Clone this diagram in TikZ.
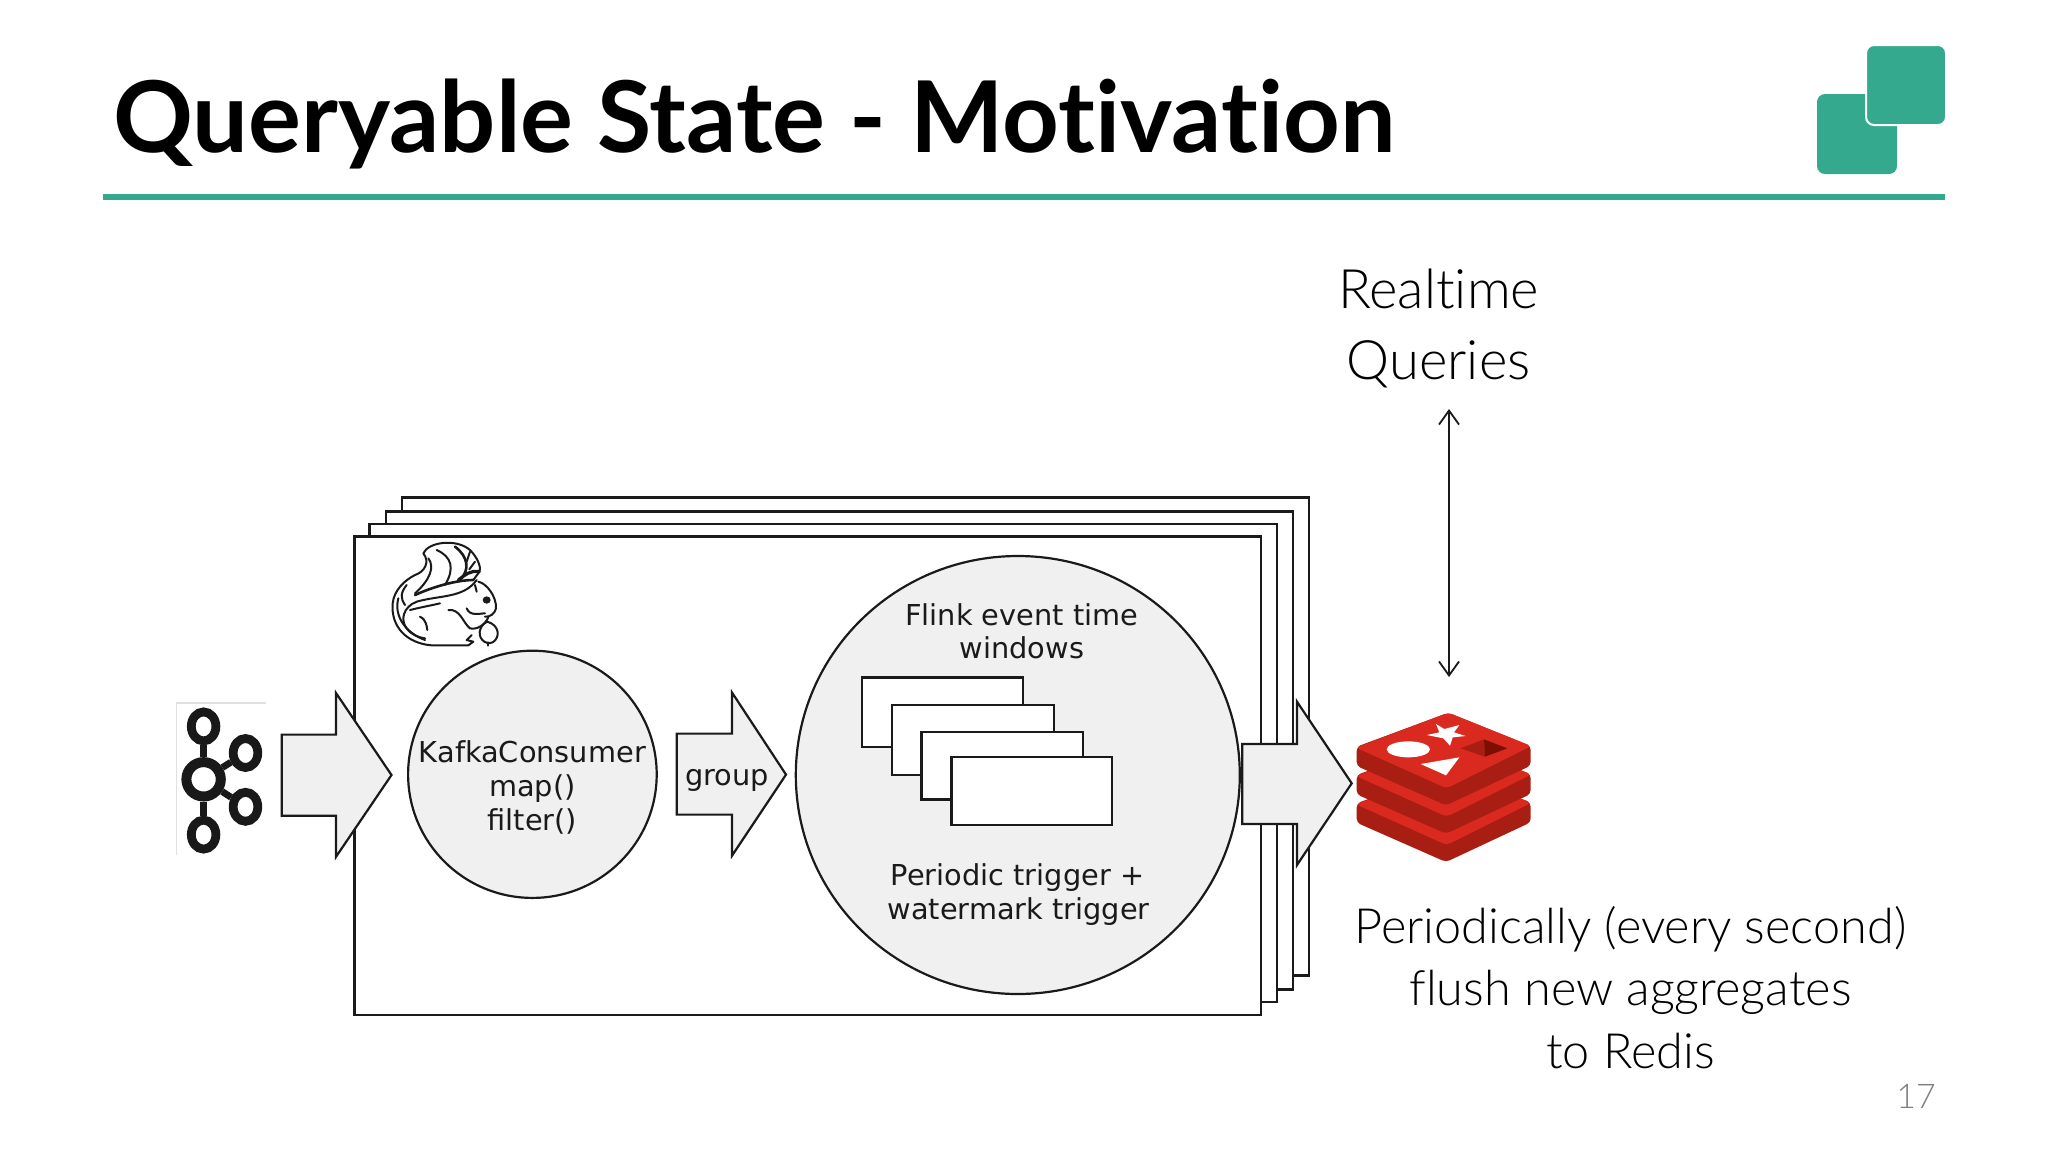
\documentclass[tikz,border=0pt]{standalone}
\usepackage{fontspec}
\usetikzlibrary{shapes.geometric,arrows.meta}
\setmainfont{Lato Light}[Ligatures=NoCommon]
\newfontfamily\titlef{Lato Bold}[Ligatures=NoCommon]
\newfontfamily\diagf{DejaVu Sans}
\definecolor{teal1}{HTML}{34A98E}
\definecolor{boxg}{HTML}{F0F0F0}
\definecolor{ink}{HTML}{1A1A1A}
\definecolor{redA}{HTML}{DA2A1F}
\definecolor{redB}{HTML}{A81E12}
\definecolor{redC}{HTML}{7C0F02}
\tikzset{
  x=0.5pt,y=-0.5pt,
  frame/.style={draw=ink,line width=1.2pt,fill=white},
  blockarrow/.style={draw=ink,line width=1.1pt,fill=boxg,line join=miter},
  bubble/.style={ellipse,draw=ink,line width=1.1pt,fill=boxg,inner sep=0pt},
  dtext/.style={font=\diagf\fontsize{14.4}{17}\selectfont,text=ink,inner sep=0pt,align=center},
  wtext/.style={font=\fontsize{24.3}{24.3}\selectfont,text=black,inner sep=0pt,align=center,anchor=base},
  qtext/.style={font=\fontsize{27.2}{27.2}\selectfont,text=black,inner sep=0pt,align=center,anchor=base},
  kring/.style={ellipse,draw=black!90,inner sep=0pt,fill=none,minimum width=12.3pt,minimum height=14.5pt,line width=4.4pt},
  klink/.style={draw=black!90,line width=3.4pt},
  sq/.style={line width=1pt,draw=ink,line cap=round,line join=round},
  layerA/.style={fill=redA,rounded corners=2pt},
  layerB/.style={fill=redB,rounded corners=2pt},
}
\begin{document}
\begin{tikzpicture}
\useasboundingbox (0,0) rectangle (2048,1152);
\fill[white] (0,0) rectangle (2048,1152);
% title
\node[anchor=base west,inner sep=0pt,font=\titlef\fontsize{49.5}{49.5}\selectfont] (title) at (113,152) {Queryable State - Motivation};
\fill[teal1] (103,194) rectangle (1945,200);
\fill[teal1,rounded corners=4pt] (1817,94) rectangle (1897,174);
\filldraw[fill=teal1,draw=white,line width=1pt,rounded corners=4pt] (1866,45) rectangle (1946,125);
% frames
\draw[frame] (402,497.5) rectangle (1309,975.5);
\draw[frame] (385.7,511.5) rectangle (1292.7,989.5);
\draw[frame] (369.6,524) rectangle (1276.7,1001.7);
\draw[frame] (354.5,536.5) rectangle (1261,1014.7);
% kafka
\draw[black!12,line width=0.6pt] (176.8,855)--(176.8,703)--(266,703);
\node[kring,line width=5pt,minimum width=17.2pt,minimum height=17.2pt] (kc) at (203.6,779.3) {};
\node[kring] (kt) at (203.6,726.4) {};
\node[kring] (kb) at (203.6,834.6) {};
\node[kring] (kr1) at (245.5,753) {};
\node[kring] (kr2) at (245.5,806.8) {};
\draw[klink] (kc)--(kt);\draw[klink] (kc)--(kb);\draw[klink] (kc)--(kr1);\draw[klink] (kc)--(kr2);
% block arrows
\draw[blockarrow] (281.7,734.6)--(336,734.6)--(336,693)--(391.5,775)--(336,856.8)--(336,815.7)--(281.7,815.7)--cycle;
\draw[blockarrow] (676.8,733.6)--(732,733.6)--(732,692.5)--(786,774.6)--(732,855.7)--(732,814.6)--(676.8,814.6)--cycle;
\draw[blockarrow] (1242.3,744)--(1297,744)--(1297,701.7)--(1351.7,783.3)--(1297,865)--(1297,824)--(1242.3,824)--cycle;
% bubbles
\node[bubble,minimum width=124.3pt,minimum height=123.6pt] (consumer) at (532.4,774.3) {};
\node[bubble,minimum width=222pt,minimum height=219pt] (windows) at (1017.8,775) {};
% window rects
\draw[frame] (862,677.3) rectangle (1022.7,746.7);
\draw[frame] (892,705) rectangle (1054,775);
\draw[frame] (921.3,731.7) rectangle (1082.7,799.3);
\draw[frame] (951.3,756.7) rectangle (1112,824.7);
% diagram text
\node[dtext,anchor=base] (tk) at (532.4,762) {KafkaConsumer};
\node[dtext,anchor=base] (tm) at (532.4,796) {map()};
\node[dtext,anchor=base] (tf) at (532.4,830) {filter()};
\node[dtext,anchor=base] (tg) at (727,785) {group};
\node[dtext,anchor=base] (t1) at (1021.7,625) {Flink event time};
\node[dtext,anchor=base] (t2) at (1022,658.3) {windows};
\node[dtext,anchor=base] (t3) at (1017.5,885.5) {Periodic trigger +};
\node[dtext,anchor=base] (t4) at (1018.7,919) {watermark trigger};
% squirrel
\begin{scope}[shift={(370,530)},x=0.16667pt,y=-0.16667pt]
\draw[sq] (295,346) -- (185,346) .. controls (110,340) and (62,290) .. (68,220) .. controls (72,180) and (105,150) .. (135,135) .. controls (165,125) and (180,95) .. (160,70) .. controls (175,35) and (260,25) .. (300,60) .. controls (320,80) and (335,110) .. (328,125) .. controls (322,135) and (315,142) .. (310,150);
\draw[sq] (320,150) .. controls (280,205) and (210,195) .. (140,215) .. controls (100,230) and (90,270) .. (110,295) .. controls (125,315) and (145,322) .. (165,325);
\draw[sq] (175,85) .. controls (195,110) and (180,150) .. (135,190);
\draw[sq] (200,60) .. controls (245,80) and (255,115) .. (225,165);
\draw[sq,line width=1.3pt] (255,50) .. controls (295,80) and (300,120) .. (270,150);
\draw[sq,line width=1.6pt] (328,125) .. controls (300,120) and (285,135) .. (265,150);
\draw[sq] (300,65) -- (290,95);
\draw[sq] (315,95) -- (298,118);
\draw[sq,line width=1.3pt] (310,150) .. controls (260,150) and (190,170) .. (135,195);
\draw[sq] (85,205) .. controls (70,260) and (110,310) .. (165,330);
\draw[sq] (110,165) .. controls (90,190) and (92,205) .. (105,225);
\draw[sq] (120,240) .. controls (160,230) and (190,225) .. (210,220);
\draw[sq] (150,260) .. controls (170,270) and (170,290) .. (172,300);
\draw[sq] (325,155) .. controls (350,160) and (380,200) .. (378,235) .. controls (375,250) and (360,262) .. (345,260);
\draw[sq] (235,240) .. controls (270,235) and (280,280) .. (300,295) .. controls (320,300) and (345,285) .. (355,262);
\draw[sq] (290,235) .. controls (300,260) and (330,250) .. (345,250);
\draw[sq] (352,275) .. controls (388,285) and (392,322) .. (368,337) .. controls (345,347) and (320,322) .. (332,295) .. controls (336,285) and (345,278) .. (352,275);
\draw[sq] (355,337) -- (355,347);
\draw[sq] (305,315) -- (290,330) -- (310,335) -- (295,346);
\draw[sq] (315,165) -- (320,185);
\fill[ink] (350,210) ellipse [x radius=12,y radius=11];
\end{scope}
% redis
\begin{scope}[shift={(1200,480)},x=0.16667pt,y=-0.16667pt]
\foreach \d in {170,85,0}{
  \fill[layerB] (470,{800+\d}) -- (745,{698+\d}) -- (992,{798+\d}) -- (992,{857+\d}) -- (738,{976+\d}) -- (470,{858+\d}) -- cycle;
  \fill[layerA] (468,{803+\d}) -- (745,{698+\d}) -- (994,{798+\d}) -- (740,{925+\d}) -- cycle;
}
\fill[white] (708,732)--(733,747)--(778,735)--(762,757)--(797,768)--(758,772)--(750,797)--(730,775)--(680,765)--(718,757)--cycle;
\fill[white] (625,808) ellipse [x radius=65,y radius=24];
\fill[white] (662,852)--(778,832)--(738,886)--cycle;
\fill[redB] (782,805)--(852,778)--(855,830)--cycle;
\fill[redC] (852,778)--(922,805)--(855,830)--cycle;
\end{scope}
% right text
\node[qtext] (rq1) at (1438.6,308) {Realtime};
\node[qtext] (rq2) at (1438.6,379) {Queries};
\coordinate (qtop) at (1449,409);
\coordinate (qbot) at (1449,677);
\draw[{Straight Barb[length=7pt,width=10pt]}-{Straight Barb[length=7pt,width=10pt]},draw=ink,line width=0.9pt] (qtop) -- (qbot);
\node[wtext] (p1) at (1630.5,943) {Periodically (every second)};
\node[wtext] (p2) at (1630.5,1005.5) {flush new aggregates};
\node[wtext] (p3) at (1630.5,1068) {to Redis};
\node[anchor=base,inner sep=0pt,text=black!50,font=\fontsize{17}{17}\selectfont] (num) at (1916,1108) {17};
\end{tikzpicture}
\end{document}
